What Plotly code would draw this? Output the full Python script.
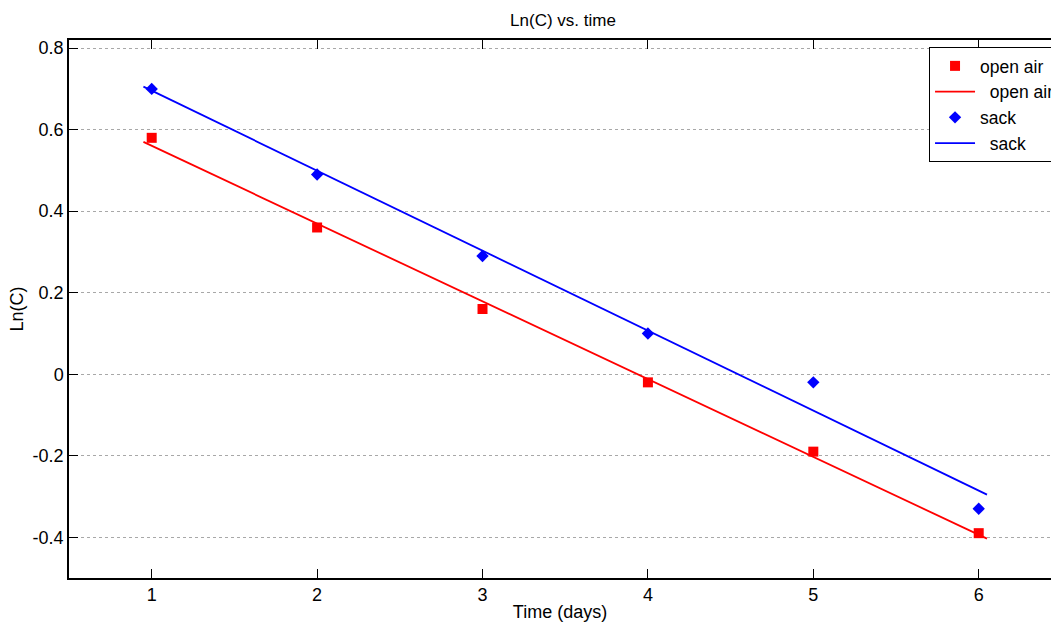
import numpy as np
import plotly.graph_objects as go

# Measured log-concentration over time for the two storage conditions
days = [1, 2, 3, 4, 5, 6]
ln_open_air = [0.58, 0.36, 0.16, -0.02, -0.19, -0.39]
ln_sack = [0.70, 0.49, 0.29, 0.10, -0.02, -0.33]

y_ticks = [-0.4, -0.2, 0, 0.2, 0.4, 0.6, 0.8]
y_tick_text = ["-0.4", "-0.2", "0", "0.2", "0.4", "0.6", "0.8"]

# Least-squares fit lines drawn slightly past the first and last day
fit_x = np.array([0.95, 6.05])
open_fit = np.polyval(np.polyfit(days, ln_open_air, 1), fit_x)
sack_fit = np.polyval(np.polyfit(days, ln_sack, 1), fit_x)

RED = "#ff0000"
BLUE = "#0000ff"
FONT = "Liberation Sans, Arial, sans-serif"

fig = go.Figure()
fig.add_trace(go.Scatter(
    x=days, y=ln_open_air, mode="markers", name="open air",
    marker=dict(symbol="square", size=10, color=RED),
))
fig.add_trace(go.Scatter(
    x=fit_x, y=open_fit, mode="lines", name="\u00a0\u00a0open air",
    line=dict(color=RED, width=1.8),
))
fig.add_trace(go.Scatter(
    x=days, y=ln_sack, mode="markers", name="sack",
    marker=dict(symbol="diamond", size=9.5, color=BLUE),
))
fig.add_trace(go.Scatter(
    x=fit_x, y=sack_fit, mode="lines", name="\u00a0\u00a0sack",
    line=dict(color=BLUE, width=1.8),
))

fig.update_layout(
    width=1051, height=622,
    # fixed margins: the legend is allowed to run off the right edge
    margin=dict(l=69, r=0, t=40, b=44, autoexpand=False),
    paper_bgcolor="white", plot_bgcolor="white",
    font=dict(family=FONT, size=18, color="black"),
    title=dict(text="Ln(C) vs. time", x=0.5357, xanchor="center",
               y=0.968, yanchor="middle", font=dict(size=17)),
    showlegend=True,
    legend=dict(
        x=0.8758, y=0.987, xanchor="left", yanchor="top",
        bgcolor="white", bordercolor="black", borderwidth=1,
        font=dict(size=17.5), tracegroupgap=0, itemwidth=40,
    ),
    xaxis=dict(
        range=[0.5, 6.437], tickvals=days, ticktext=[str(d) for d in days],
        ticks="inside", ticklen=9, tickcolor="black", tickwidth=1,
        showline=True, linecolor="black", linewidth=1.5, mirror="ticks",
        showgrid=False, zeroline=False,
        title=dict(text="Time (days)", standoff=4, font=dict(size=18)),
        tickfont=dict(size=18),
    ),
    yaxis=dict(
        range=[-0.5, 0.82], tickvals=y_ticks, ticktext=y_tick_text,
        ticks="inside", ticklen=9, tickcolor="black", tickwidth=1,
        showline=True, linecolor="black", linewidth=1.5,
        showgrid=True, gridcolor="#a8a8a8", griddash="dot", gridwidth=1,
        zeroline=False,
        title=dict(text="Ln(C)", standoff=4, font=dict(size=18)),
        tickfont=dict(size=18),
    ),
)

fig.write_html("out.html")
